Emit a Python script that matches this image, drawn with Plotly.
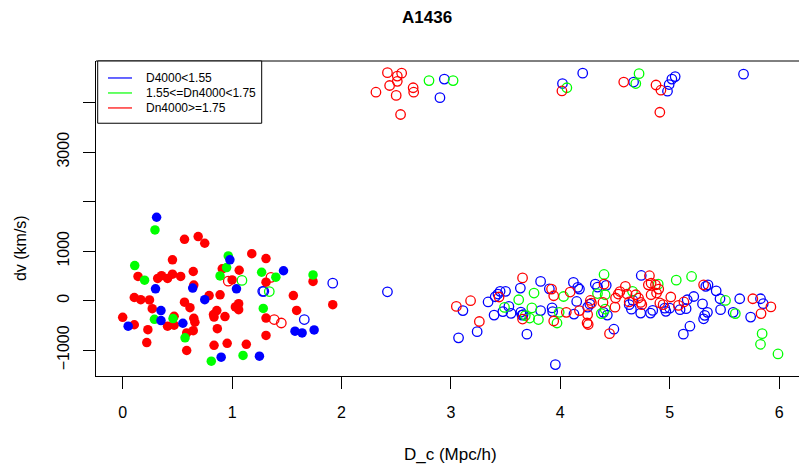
import plotly.graph_objects as go

# ---------------- data ----------------
title_text = "A1436"
x_label = "D_c (Mpc/h)"
y_label = "dv (km/s)"
legend_labels = ["D4000<1.55", "1.55<=Dn4000<1.75", "Dn4000>=1.75"]
legend_colors = ["#0000FF", "#00FF00", "#FF0000"]

x_tickvals = [0, 1, 2, 3, 4, 5, 6]
y_tickvals = [-1000, 0, 1000, 2000, 3000, 4000]
y_ticktext = ["\u22121000", "0", "1000", "", "3000", ""]

# filled circles
blue_fill_x = [0.31, 0.30, 0.35, 0.35, 0.05, 0.64, 0.75, 0.55, 0.98, 1.04, 0.90, 1.25, 1.47, 1.575, 1.64, 1.75]
blue_fill_y = [1685, 240, -200, -400, -515, 255, 20, -455, 825, 240, -1140, -1120, 605, -615, -650, -590]

green_fill_x = [0.11, 0.295, 0.20, 0.29, 0.46, 0.57, 0.81, 0.89, 0.95, 0.965, 1.10, 1.27, 1.285, 1.40, 1.74]
green_fill_y = [710, 1430, 415, -375, -360, -750, -1220, 500, 670, 905, -1105, 575, -155, 475, 520]

red_fill_x = [0.00, 0.106, 0.106, 0.14, 0.165, 0.245, 0.23, 0.22, 0.27, 0.32, 0.355, 0.41, 0.41, 0.455,
              0.455, 0.47, 0.47, 0.53, 0.565, 0.565, 0.615, 0.645, 0.65, 0.65, 0.66, 0.645, 0.585, 0.585,
              0.69, 0.75, 0.79, 0.83, 0.835, 0.86, 0.865, 0.835, 0.89, 0.91, 0.935, 0.955, 1.00, 1.03,
              1.06, 1.06, 1.065, 1.13, 1.18, 1.31, 1.31, 1.31, 1.31, 1.56, 1.59, 1.74, 1.92]
red_fill_y = [-335, -485, 65, 490, 20, 15, -585, -845, -160, 450, 505, 450, -515, 535,
              825, -315, -495, 490, 1240, -30, -140, 590, 315, -355, -435, -605, -650, -1005,
              1295, 1160, 105, -280, -330, -200, -565, -900, 120, 645, -320, -860, 420, -125,
              -60, -180, 615, -880, 950, 850, 375, -350, -700, 105, -195, 390, -80]

# open circles
blue_open_x = [1.28, 1.29, 1.66, 1.92, 2.42,
               2.94, 2.90, 4.02, 4.205, 4.67, 5.05, 5.02, 4.995, 4.98, 5.675,
               3.07, 3.11, 3.24, 3.34, 3.395, 3.405, 3.43, 3.45, 3.50, 3.475, 3.53, 3.55, 3.635, 3.64,
               3.65, 3.66, 3.695, 3.82, 3.82, 3.90, 3.925, 3.93, 3.955, 4.12, 4.125, 4.15, 4.16, 4.175,
               4.25, 4.27, 4.32, 4.34, 4.42, 4.395, 4.43, 4.49, 4.63, 4.65, 4.665, 4.74, 4.735, 4.825,
               4.845, 4.955, 4.965, 5.00, 5.095, 5.125, 5.16, 5.185, 5.15, 5.22, 5.30, 5.31, 5.32, 5.345,
               5.33, 5.35, 5.425, 5.46, 5.465, 5.58, 5.64, 5.74, 5.83, 5.855]
blue_open_y = [190, 190, -380, 355, 180,
               4475, 4100, 4385, 4595, 4415, 4525, 4475, 4365, 4230, 4575,
               -750, -200, -625, -25, -290, 80, 135, 190, 190, -220, -115, -255, 255, -230,
               -290, -280, -675, 390, -200, 240, -145, -220, -1290, 370, -270, -15, 270, 235,
               -130, -70, 335, 275, 310, -235, -290, -575, -80, -170, 5, 510, -250, -250,
               -195, -150, -215, -150, -180, -675, 20, -515, -160, 85, -65, -365, -295, -235,
               290, 320, 200, 40, -180, -235, 40, -330, 40, -60]

green_open_x = [1.09, 1.34,
                2.80, 3.02, 4.06, 4.72, 4.69,
                3.49, 3.62, 3.68, 3.72, 3.74, 3.76, 3.80, 3.97, 3.99, 4.03, 4.34, 4.375, 4.41, 4.41,
                4.40, 4.66, 4.895, 5.06, 5.20, 5.51, 5.60, 5.845, 5.83, 5.99]
green_open_y = [410, 185,
                4445, 4445, 4300, 4585, 4385,
                -135, 20, -300, -350, -145, 155, -380, -450, -235, 85, 145, -260, 120, -170,
                530, 190, 335, 415, 490, 5, -260, -665, -880, -1075]

red_open_x = [0.965, 1.355, 1.385, 1.45,
              2.42, 2.55, 2.51, 2.51, 2.44, 2.315, 2.50, 2.655, 2.66, 2.54, 4.015, 4.58, 4.875, 4.92, 4.91,
              3.05, 3.18, 3.26, 3.44, 3.655, 3.655, 3.92, 3.94, 3.94, 4.055, 4.09, 4.175, 4.245, 4.255,
              4.25, 4.275, 4.285, 4.39, 4.40, 4.45, 4.50, 4.505, 4.53, 4.545, 4.595, 4.61, 4.63, 4.69,
              4.715, 4.735, 4.745, 4.815, 4.805, 4.83, 4.83, 4.87, 4.88, 4.90, 4.91, 4.94, 5.01, 5.08,
              5.13, 5.31, 5.76, 5.835, 5.925]
red_open_y = [395, 470, -380, -450,
              4605, 4595, 4535, 4430, 4345, 4210, 4145, 4300, 4210, 3760, 4235, 4415, 4355, 4250, 3805,
              -115, 0, -420, 75, 460, -370, 235, 100, -410, -235, 175, -200, -450, -480,
              -280, 5, -50, -35, 335, -665, -130, 55, 135, 185, 290, 135, -25, 120,
              55, -35, -80, 505, 320, 355, 120, 320, 155, 235, -45, -80, 75, -95,
              -25, 320, 40, -260, -125]

# ---------------- layout geometry (pixels) ----------------
W, H = 799, 470
PL, PR, PT, PB = 96, 799, 60.7, 376  # plot area in pixels


def px2paper_x(px):
    return (px - PL) / (PR - PL)


def px2paper_y(py):
    return (PB - py) / (PB - PT)


fig = go.Figure()

marker_size = 9.5
for xs, ys, c in [(blue_open_x, blue_open_y, legend_colors[0]),
                  (green_open_x, green_open_y, legend_colors[1]),
                  (red_open_x, red_open_y, legend_colors[2])]:
    fig.add_trace(go.Scatter(x=xs, y=ys, mode="markers", showlegend=False,
                             marker=dict(symbol="circle-open", size=marker_size,
                                         color=c, line=dict(width=1.3, color=c))))

for xs, ys, c in [(red_fill_x, red_fill_y, legend_colors[2]),
                  (green_fill_x, green_fill_y, legend_colors[1]),
                  (blue_fill_x, blue_fill_y, legend_colors[0])]:
    fig.add_trace(go.Scatter(x=xs, y=ys, mode="markers", showlegend=False,
                             marker=dict(symbol="circle", size=marker_size, color=c,
                                         line=dict(width=0))))

font_main = "Liberation Sans, Arial, sans-serif"

fig.update_layout(
    width=W, height=H,
    margin=dict(l=PL, r=W - PR, t=PT, b=H - PB, pad=0),
    paper_bgcolor="white", plot_bgcolor="white",
    font=dict(family=font_main, size=16, color="black"),
    xaxis=dict(range=[-0.244, 6.182], tickvals=x_tickvals, showgrid=False, zeroline=False,
               showline=True, linecolor="black", linewidth=1, ticks="outside", ticklen=12,
               tickcolor="black", tickwidth=1, tickfont=dict(size=16), ticklabelstandoff=10,
               automargin=False),
    yaxis=dict(range=[-1520, 4840], tickvals=y_tickvals, ticktext=y_ticktext, showgrid=False,
               zeroline=False, showline=True, linecolor="black", linewidth=1, ticks="outside",
               ticklen=12, tickcolor="black", tickwidth=1, tickangle=-90, tickfont=dict(size=16),
               ticklabelstandoff=8, automargin=False),
)

# top border of plot box
fig.add_shape(type="line", xref="paper", yref="paper", x0=0, x1=1, y0=1, y1=1,
              line=dict(color="black", width=1))

# title and axis titles
fig.add_annotation(text="<b>" + title_text + "</b>", xref="paper", yref="paper",
                   x=px2paper_x(427), y=px2paper_y(17), showarrow=False,
                   xanchor="center", yanchor="middle", font=dict(size=17, family=font_main))
fig.add_annotation(text=x_label, xref="paper", yref="paper",
                   x=px2paper_x(450), y=px2paper_y(455), showarrow=False,
                   xanchor="center", yanchor="middle", font=dict(size=17, family=font_main))
fig.add_annotation(text=y_label, xref="paper", yref="paper",
                   x=px2paper_x(20), y=px2paper_y(248), showarrow=False, textangle=-90,
                   xanchor="center", yanchor="middle", font=dict(size=16, family=font_main))

# legend box
fig.add_shape(type="rect", xref="paper", yref="paper",
              x0=px2paper_x(97.7), x1=px2paper_x(261.7), y0=px2paper_y(123), y1=px2paper_y(60.7),
              line=dict(color="black", width=1), fillcolor="white")
legend_y = [77.7, 92.7, 107.7]
for lab, col, ly in zip(legend_labels, legend_colors, legend_y):
    fig.add_shape(type="line", xref="paper", yref="paper",
                  x0=px2paper_x(108), x1=px2paper_x(132), y0=px2paper_y(ly), y1=px2paper_y(ly),
                  line=dict(color=col, width=1.2))
    fig.add_annotation(text=lab, xref="paper", yref="paper", x=px2paper_x(144), y=px2paper_y(ly),
                       showarrow=False, xanchor="left", yanchor="middle",
                       font=dict(size=12, family=font_main))

fig.write_html("out.html", config={"displayModeBar": False},
               post_script="document.body.style.margin='0px';document.body.style.overflow='hidden';")
